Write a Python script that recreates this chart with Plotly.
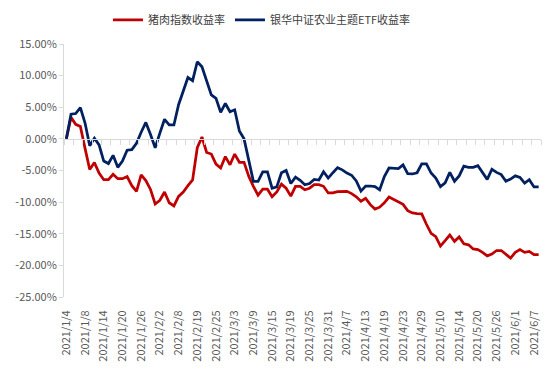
import plotly.graph_objects as go

dates = [
    "2021/1/4", "2021/1/5", "2021/1/6", "2021/1/7", "2021/1/8", "2021/1/11", "2021/1/12", "2021/1/13",
    "2021/1/14", "2021/1/15", "2021/1/18", "2021/1/19", "2021/1/20", "2021/1/21", "2021/1/22", "2021/1/25",
    "2021/1/26", "2021/1/27", "2021/1/28", "2021/1/29", "2021/2/2", "2021/2/3", "2021/2/4", "2021/2/5",
    "2021/2/8", "2021/2/9", "2021/2/10", "2021/2/18", "2021/2/19", "2021/2/22", "2021/2/23", "2021/2/24",
    "2021/2/25", "2021/2/26", "2021/3/1", "2021/3/2", "2021/3/3", "2021/3/4", "2021/3/5", "2021/3/8",
    "2021/3/9", "2021/3/10", "2021/3/11", "2021/3/12", "2021/3/15", "2021/3/16", "2021/3/17", "2021/3/18",
    "2021/3/19", "2021/3/22", "2021/3/23", "2021/3/24", "2021/3/25", "2021/3/26", "2021/3/29", "2021/3/30",
    "2021/3/31", "2021/4/1", "2021/4/2", "2021/4/6", "2021/4/7", "2021/4/8", "2021/4/9", "2021/4/12",
    "2021/4/13", "2021/4/14", "2021/4/15", "2021/4/16", "2021/4/19", "2021/4/20", "2021/4/21", "2021/4/22",
    "2021/4/23", "2021/4/26", "2021/4/27", "2021/4/28", "2021/4/29", "2021/4/30", "2021/5/6", "2021/5/7",
    "2021/5/10", "2021/5/11", "2021/5/12", "2021/5/13", "2021/5/14", "2021/5/17", "2021/5/18", "2021/5/19",
    "2021/5/20", "2021/5/21", "2021/5/24", "2021/5/25", "2021/5/26", "2021/5/27", "2021/5/28", "2021/5/31",
    "2021/6/1", "2021/6/2", "2021/6/3", "2021/6/4", "2021/6/7", "2021/6/8",
]

# returns in percent
pork_return = [
    0, 3.4, 2.3, 1.95, -1.5, -4.85, -3.75, -5.4, -6.45, -6.45,
    -5.6, -6.3, -6.3, -5.95, -7.4, -8.3, -5.7, -6.6, -8.0, -10.3,
    -9.7, -8.4, -10.1, -10.6, -9.1, -8.4, -7.4, -6.5, -1.4, 0.3,
    -2.15, -2.4, -4.0, -4.6, -2.8, -4.1, -2.4, -3.7, -3.7, -5.9,
    -7.5, -8.9, -7.95, -7.95, -9.15, -8.4, -7.15, -7.8, -9.05, -7.5,
    -7.5, -8.05, -7.8, -7.25, -7.25, -7.5, -8.55, -8.55, -8.35, -8.3,
    -8.3, -8.65, -9.15, -9.85, -9.4, -10.4, -11.1, -10.8, -10.1, -9.2,
    -9.6, -9.9, -10.35, -11.35, -11.7, -11.8, -11.85, -13.5, -14.95, -15.45,
    -16.95, -16.1, -15.2, -16.2, -15.5, -16.6, -16.75, -17.4, -17.5, -17.95,
    -18.5, -18.2, -17.65, -17.65, -18.2, -18.85, -17.95, -17.5, -17.95, -17.8,
    -18.3, -18.3,
]

etf_return = [
    0, 3.9, 4.0, 4.95, 2.5, -1.1, 0.1, -0.95, -3.5, -3.9,
    -2.6, -4.5, -3.5, -1.8, -1.7, -0.7, 1.05, 2.6, 0.7, -1.4,
    0.9, 3.1, 2.2, 2.2, 5.4, 7.5, 9.7, 9.2, 12.2, 11.4,
    9.05, 6.95, 6.4, 4.2, 5.6, 4.3, 4.6, 1.25, 0.0, -3.4,
    -6.7, -6.7, -5.2, -5.2, -7.8, -7.6, -5.35, -5.0, -7.05, -6.05,
    -6.55, -7.25, -7.05, -6.4, -6.5, -5.2, -6.2, -5.35, -4.55, -4.9,
    -5.4, -5.75, -6.65, -8.25, -7.45, -7.45, -7.55, -8.05, -5.95, -4.6,
    -4.6, -4.7, -4.1, -5.5, -5.55, -5.35, -3.95, -3.95, -5.4, -6.2,
    -7.55, -6.95, -5.3, -6.7, -5.85, -4.3, -4.5, -4.5, -4.25, -5.3,
    -6.4, -4.8, -5.3, -5.65, -6.7, -6.35, -5.85, -6.1, -7.0, -6.45,
    -7.6, -7.6,
]

series_names = ["猪肉指数收益率", "银华中证农业主题ETF收益率"]
y_tick_values = [15, 10, 5, 0, -5, -10, -15, -20, -25]
y_tick_labels = ["15.00%", "10.00%", "5.00%", "0.00%", "-5.00%", "-10.00%", "-15.00%", "-20.00%", "-25.00%"]

idx = list(range(len(dates)))
label_idx = idx[::4]
label_text = dates[::4]

fig = go.Figure()
fig.add_trace(go.Scatter(x=idx, y=pork_return, mode="lines", name=series_names[0],
                         line=dict(color="#C00000", width=2.75)))
fig.add_trace(go.Scatter(x=idx, y=etf_return, mode="lines", name=series_names[1],
                         line=dict(color="#002060", width=2.75)))

ymin, ymax = -25, 15
fig.update_layout(
    width=548, height=376,
    margin=dict(l=56, r=15, t=36, b=87, autoexpand=False),
    paper_bgcolor="white", plot_bgcolor="white",
    font=dict(family="Noto Sans CJK SC, Noto Sans, sans-serif", size=11, color="#595959"),
    legend=dict(orientation="h", x=0.415, xanchor="center", y=1.095, yanchor="middle",
                font=dict(size=11, color="#404040"), itemwidth=30, tracegroupgap=0),
    xaxis=dict(
        range=[-0.5, len(dates) - 0.5],
        tickmode="array", tickvals=label_idx, ticktext=label_text,
        tickangle=-90, ticks="", showline=True, linecolor="#D9D9D9", linewidth=1,
        anchor="free", position=(0 - ymin) / (ymax - ymin),
        ticklabelstandoff=166,
        minor=dict(ticks="outside", ticklen=5, tickcolor="#D9D9D9", tick0=-0.5, dtick=2, showgrid=False),
        showgrid=False, zeroline=False, automargin=False,
        tickfont=dict(size=11, color="#595959"),
    ),
    yaxis=dict(
        range=[ymin, ymax], tickmode="array", tickvals=y_tick_values, ticktext=y_tick_labels,
        ticks="outside", ticklen=4, tickcolor="#D9D9D9", showline=True, linecolor="#D9D9D9",
        linewidth=1, showgrid=False, zeroline=False, automargin=False,
        tickfont=dict(size=11, color="#595959"),
    ),
)

fig.write_html("out.html")
